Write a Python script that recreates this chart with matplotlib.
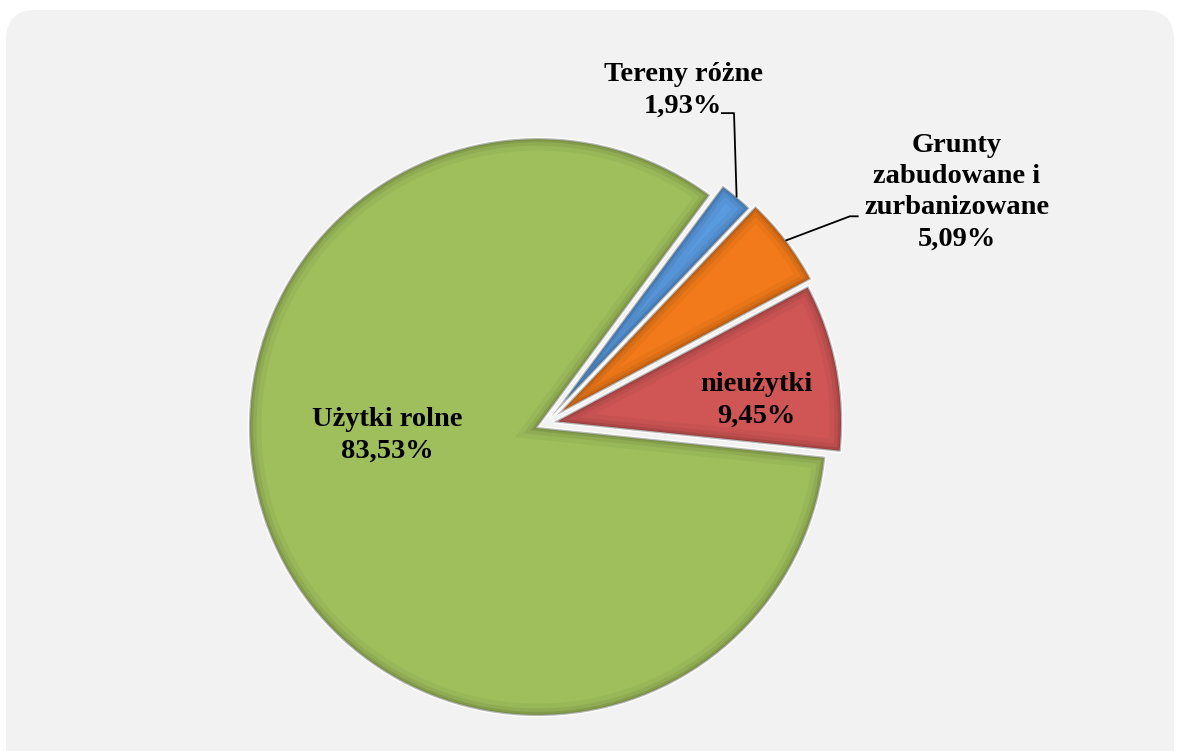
import numpy as np
import matplotlib.pyplot as plt
from matplotlib.patches import Wedge, FancyBboxPatch

# --- dane ---
labels = ['nieużytki', 'Grunty\nzabudowane i\nzurbanizowane', 'Tereny różne', 'Użytki rolne']
values = [9.45, 5.09, 1.93, 83.53]
pct_text = ['9,45%', '5,09%', '1,93%', '83,53%']
colors = ['#d05656', '#f27a1a', '#5a9be0', '#9fbf5c']
explode = [0.028, 0.048, 0.028, 0.028]

W, H = 1179, 751
R_PX = 289.0
OX, OY = 545.3, 423.8   # środek koła w pikselach

fig = plt.figure(figsize=(W / 100, H / 100), dpi=100)
fig.patch.set_facecolor('white')

# tło z zaokrąglonymi rogami (w calach)
bg = FancyBboxPatch((0.06, -0.5), 11.68, 7.91,
                    boxstyle='round,pad=0,rounding_size=0.3',
                    transform=fig.dpi_scale_trans, facecolor='#f2f2f2',
                    edgecolor='none', zorder=-10)
fig.patches.append(bg)

ax = fig.add_axes([0, 0, 1, 1])
ax.patch.set_alpha(0)

wedges, _ = ax.pie(values, colors=colors, explode=explode, startangle=-5.9,
                   radius=1.0, wedgeprops=dict(edgecolor='white', linewidth=1.8))

# pie() ustawia własne granice - nadpisujemy po nim
ax.set_xlim(-OX / R_PX, (W - OX) / R_PX)
ax.set_ylim(-(H - OY) / R_PX, OY / R_PX)
ax.set_aspect('equal')
ax.axis('off')

# efekt fazowania (ciemniejsze krawędzie wewnątrz klina)
for w in wedges:
    for lw, a in [(18, 0.04), (11, 0.06), (6, 0.09), (3, 0.12)]:
        b = Wedge(w.center, w.r, w.theta1, w.theta2, fill=False,
                  edgecolor='black', linewidth=lw, alpha=a, zorder=3)
        b.set_clip_path(w)
        ax.add_patch(b)
    w.set_edgecolor('white')

font = dict(family='Liberation Serif', fontweight='bold', fontsize=20.5,
            color='black', ha='center', va='center', linespacing=1.33, zorder=6)

# etykiety wewnątrz
ax.text(-0.548, -0.039, f'{labels[3]}\n{pct_text[3]}', **font)
ax.text(0.732, 0.082, f'{labels[0]}\n{pct_text[0]}', **font)

# etykiety z liniami odniesienia
def arc_mid(w):
    ang = np.deg2rad((w.theta1 + w.theta2) / 2)
    cx, cy = w.center
    return cx + w.r * np.cos(ang), cy + w.r * np.sin(ang)

ax.text(0.477, 1.154, f'{labels[2]}\n{pct_text[2]}', **font)
x0, y0 = arc_mid(wedges[2])
ax.plot([x0, 0.653, 0.611], [y0, 1.075, 1.075], color='black', lw=1.3, zorder=5)

ax.text(1.424, 0.802, f'{labels[1]}\n{pct_text[1]}', **font)
x0, y0 = arc_mid(wedges[1])
ax.plot([x0, 1.054, 1.081], [y0, 0.718, 0.718], color='black', lw=1.3, zorder=5)

fig.savefig('out.png', dpi=100, facecolor=fig.get_facecolor())
